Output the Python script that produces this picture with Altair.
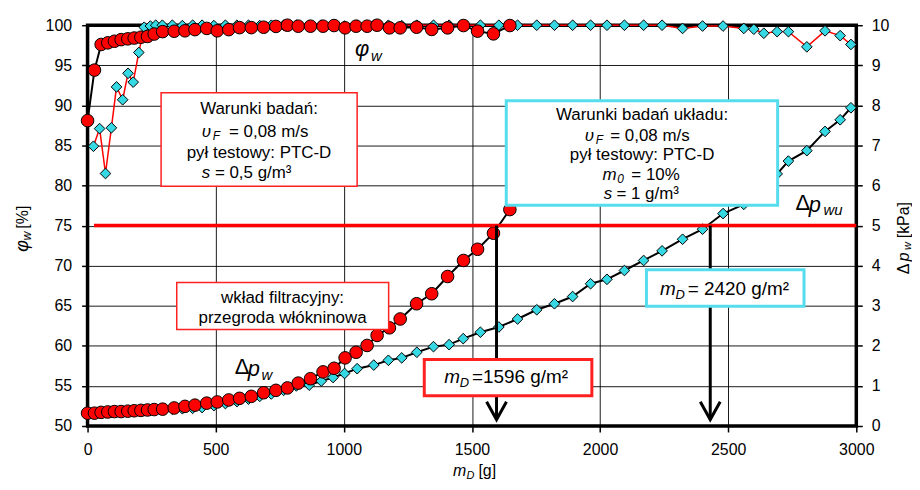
import altair as alt
import pandas as pd

# ---------------- data ----------------
# filter (red circles): dust mass m_D [g], efficiency phi_w [%], pressure drop dp_w [kPa]
red_m = [0, 27, 53, 79, 105, 131, 157, 182, 208, 234, 260, 293, 338, 380, 419, 465, 506, 551, 593, 639,
         687, 735, 780, 822, 870, 919, 962, 1005, 1048, 1091, 1130, 1178, 1220, 1284, 1343, 1405, 1467, 1522, 1584, 1648]
red_eff = [88.1, 94.4, 97.6, 97.8, 98.0, 98.2, 98.3, 98.4, 98.5, 98.6,
           98.9, 99.2, 99.25, 99.3, 99.45, 99.6, 99.3, 99.45, 99.7, 99.7,
           99.75, 99.85, 100.0, 99.88, 99.88, 99.88, 99.96, 99.67, 99.88, 99.88,
           100.0, 99.67, 99.67, 99.75, 99.47, 99.67, 99.96, 99.26, 98.92, 99.96]
red_dp = [0.32, 0.32, 0.34, 0.35, 0.36, 0.36, 0.37, 0.38, 0.39, 0.40,
          0.41, 0.42, 0.45, 0.49, 0.52, 0.57, 0.60, 0.65, 0.69, 0.74,
          0.83, 0.89, 0.95, 1.07, 1.18, 1.35, 1.44, 1.70, 1.84, 2.01,
          2.26, 2.45, 2.67, 3.05, 3.30, 3.73, 4.13, 4.41, 4.81, 5.40]

# system (cyan diamonds)
cyan_m = [23, 47, 70, 93, 113, 137, 158, 178, 200, 221,
          245, 266, 292, 331, 370, 410, 447, 493, 538, 583,
          628, 672, 717, 765, 815, 865, 912, 958, 1003, 1052,
          1117, 1174, 1226, 1285, 1350, 1411, 1466, 1533, 1605, 1678,
          1753, 1822, 1893, 1963, 2027, 2095, 2170, 2242, 2322, 2400,
          2480, 2561, 2600, 2639, 2691, 2735, 2807, 2878, 2937, 2979]
cyan_eff = [84.9, 87.1, 81.5, 87.2, 92.3, 90.7, 94.0, 92.9, 96.6, 99.75,
            99.9, 100.0, 100.0, 100.0, 99.95, 100.0, 100.0, 99.95, 100.0, 100.0,
            100.0, 99.95, 100.0, 100.0, 100.0, 99.95, 100.0, 100.0, 99.9, 100.0,
            100.0, 100.0, 99.95, 100.0, 100.0, 100.0, 100.0, 100.0, 100.0, 100.0,
            100.0, 100.0, 100.0, 100.0, 100.0, 100.0, 100.0, 100.0, 99.6, 99.9,
            99.9, 99.6, 99.5, 99.0, 99.2, 99.2, 97.3, 99.3, 98.7, 97.6]
cyan_dp = [0.32, 0.33, 0.33, 0.34, 0.35, 0.35, 0.36, 0.37, 0.38, 0.38,
           0.39, 0.40, 0.41, 0.42, 0.43, 0.44, 0.46, 0.51, 0.56, 0.61,
           0.67, 0.74, 0.80, 0.89, 1.00, 1.02, 1.12, 1.21, 1.31, 1.43,
           1.52, 1.64, 1.70, 1.84, 1.98, 2.03, 2.18, 2.34, 2.47, 2.67,
           2.90, 3.05, 3.23, 3.55, 3.66, 3.88, 4.13, 4.37, 4.66, 4.91,
           5.30, 5.53, 5.70, 5.90, 6.29, 6.61, 6.87, 7.35, 7.64, 7.94]

limit_eff = 75          # = 5 kPa on the right axis
limit_start = 25
arrow_m = [1596, 2430]
arrow_tip = 50.8

x_ticks = [0, 500, 1000, 1500, 2000, 2500, 3000]
eff_ticks = [50, 55, 60, 65, 70, 75, 80, 85, 90, 95, 100]
dp_ticks = [0, 1, 2, 3, 4, 5, 6, 7, 8, 9, 10]

# annotation boxes (data units)
box_m1 = [287, 1634, 348, 1314, 2181]
box_m2 = [1052, 2693, 1175, 1968, 2796]
box_top = [91.56, 90.57, 67.90, 58.31, 69.48]
box_bottom = [79.90, 77.54, 62.03, 53.76, 64.93]
box_color = ["#FF2020", "#55DDEE", "#FF2020", "#FF2020", "#55DDEE"]
box_width = [1.5, 3, 1.5, 3, 3]

FONT = "Liberation Sans"
RED = "#FF0000"
CYAN = "#36D9E3"

# ---------------- encodings ----------------
x_enc = alt.X("m:Q", scale=alt.Scale(domain=[0, 3000], nice=False, zero=False),
              axis=alt.Axis(values=x_ticks, grid=True, title=None, labelPadding=10, format="d",
                            labelFlush=False))
eff_y = alt.Y("eff:Q", scale=alt.Scale(domain=[50, 100], nice=False, zero=False),
              axis=alt.Axis(orient="left", values=eff_ticks, grid=True, title=None, labelPadding=10,
                            labelFlush=False))
dp_y = alt.Y("dp:Q", scale=alt.Scale(domain=[0, 10], nice=False, zero=False),
             axis=alt.Axis(orient="right", values=dp_ticks, grid=False, title=None, labelPadding=9,
                           labelFlush=False))

red_df = pd.DataFrame({"m": red_m, "eff": red_eff, "dp": red_dp})
cyan_df = pd.DataFrame({"m": cyan_m, "eff": cyan_eff, "dp": cyan_dp})

# ---------------- pressure-drop group (right axis) ----------------
cyan_dp_line = alt.Chart(cyan_df).mark_line(color="black", strokeWidth=2).encode(x=x_enc, y=dp_y)
cyan_dp_pts = alt.Chart(cyan_df).mark_point(shape="diamond", filled=True, fill=CYAN, stroke="black",
                                            strokeWidth=1, size=115, opacity=1).encode(x=x_enc, y=dp_y)
red_dp_line = alt.Chart(red_df).mark_line(color="black", strokeWidth=2).encode(x=x_enc, y=dp_y)
red_dp_pts = alt.Chart(red_df).mark_point(shape="circle", filled=True, fill=RED, stroke="black",
                                          strokeWidth=1, size=160, opacity=1).encode(x=x_enc, y=dp_y)
dp_group = alt.layer(cyan_dp_line, cyan_dp_pts, red_dp_line, red_dp_pts)

# ---------------- efficiency group (left axis) ----------------
cyan_eff_line = alt.Chart(cyan_df).mark_line(color=RED, strokeWidth=1.5).encode(x=x_enc, y=eff_y)
cyan_eff_pts = alt.Chart(cyan_df).mark_point(shape="diamond", filled=True, fill=CYAN, stroke="black",
                                             strokeWidth=1, size=115, opacity=1).encode(x=x_enc, y=eff_y)
red_eff_line = alt.Chart(red_df).mark_line(color="black", strokeWidth=2).encode(x=x_enc, y=eff_y)
red_eff_pts = alt.Chart(red_df).mark_point(shape="circle", filled=True, fill=RED, stroke="black",
                                           strokeWidth=1, size=160, opacity=1).encode(x=x_enc, y=eff_y)

limit_df = pd.DataFrame({"m": [limit_start], "m2": [3000], "eff": [limit_eff]})
limit_rule = alt.Chart(limit_df).mark_rule(color=RED, strokeWidth=3.5).encode(
    x=x_enc, x2=alt.X2("m2:Q"), y=eff_y)

arrow_df = pd.DataFrame({"m": arrow_m, "eff": [limit_eff] * len(arrow_m), "eff2": [arrow_tip] * len(arrow_m)})
arrow_rules = alt.Chart(arrow_df).mark_rule(color="black", strokeWidth=3).encode(
    x=x_enc, y=eff_y, y2=alt.Y2("eff2:Q"))
tip_df = pd.DataFrame({"m": arrow_m, "eff": [arrow_tip] * len(arrow_m)})
arrow_heads = alt.Chart(tip_df).mark_point(shape="M-1,-1.8L0,0L1,-1.8", filled=False, stroke="black",
                                           strokeWidth=3, size=400, opacity=1,
                                           strokeJoin="miter").encode(x=x_enc, y=eff_y)

box_df = pd.DataFrame({"m": box_m1, "m2": box_m2, "eff": box_top, "eff2": box_bottom,
                       "col": box_color, "sw": box_width})
boxes = alt.Chart(box_df).mark_rect(fill="white", opacity=1).encode(
    x=x_enc, x2=alt.X2("m2:Q"), y=eff_y, y2=alt.Y2("eff2:Q"),
    stroke=alt.Stroke("col:N", scale=None), strokeWidth=alt.StrokeWidth("sw:Q", scale=None))


def txt(ms, ys, texts, size, italic=False, align="left"):
    df = pd.DataFrame({"m": ms, "eff": ys, "t": texts})
    return alt.Chart(df).mark_text(font=FONT, fontSize=size, fontStyle="italic" if italic else "normal",
                                   align=align, baseline="middle", color="black").encode(
        x=x_enc, y=eff_y, text="t:N")


texts = [
    txt([669, 669, 2164, 2164, 761, 761], [89.58, 84.0, 88.83, 83.75, 66.0, 63.52],
        ["Warunki badań:", "pył testowy: PTC-D", "Warunki badań układu:", "pył testowy: PTC-D",
         "wkład filtracyjny:", "przegroda włókninowa"], 17, align="center"),
    txt([552, 497, 2040, 2122, 2064], [86.72, 81.51, 86.23, 81.27, 78.91],
        ["= 0,08 m/s", "= 0,5 g/m³", "= 0,08 m/s", "= 10%", "= 1 g/m³"], 17),
    txt([446, 446, 1940, 2010, 2014], [86.72, 81.51, 86.23, 81.27, 78.91],
        ["υ", "s", "υ", "m", "s"], 17, italic=True),
    txt([489, 1983, 2067], [86.23, 85.73, 80.77], ["F", "F", "0"], 12, italic=True),
    txt([1392, 2234], [56.08, 67.12], ["m", "m"], 19, italic=True),
    txt([1452, 2294], [55.33, 66.38], ["D", "D"], 13, italic=True),
    txt([1500, 2342], [56.08, 67.12], ["=1596 g/m²", "= 2420 g/m²"], 19),
    txt([1044, 625, 2814], [97.02, 57.07, 77.54], ["φ", "p", "p"], 22, italic=True),
    txt([1106, 679, 2872], [96.15, 56.33, 76.92], ["w", "w", "wu"], 15, italic=True),
    txt([574, 2763], [57.32, 77.79], ["Δ", "Δ"], 22),
]

one = pd.DataFrame({"k": [0]})


def ptxt(x, y, s, size, italic=False, angle=0, align="center"):
    return alt.Chart(one).mark_text(font=FONT, fontSize=size, fontStyle="italic" if italic else "normal",
                                    align=align, baseline="middle", angle=angle, color="black").encode(
        x=alt.value(x), y=alt.value(y), text=alt.value(s))


titles = [
    ptxt(-65, 222, "φ", 18, italic=True, angle=270),
    ptxt(-61, 212, "w", 12, italic=True, angle=270),
    ptxt(-65, 193, "[%]", 16, angle=270),
    ptxt(374, 448, "m", 16, italic=True),
    ptxt(381, 453, "D", 11, italic=True, align="left"),
    ptxt(393, 448, "[g]", 16, align="left"),
    ptxt(821, 245, "Δ", 16, angle=270),
    ptxt(821, 233, "p", 16, italic=True, angle=270),
    ptxt(825, 222, "w", 11, italic=True, angle=270),
    ptxt(821, 196, "[kPa]", 16, angle=270),
]

eff_group = alt.layer(cyan_eff_line, cyan_eff_pts, red_eff_line, red_eff_pts,
                      limit_rule, arrow_rules, arrow_heads, boxes, *texts, *titles)

chart = alt.layer(dp_group, eff_group).resolve_scale(y="independent").properties(
    width=773, height=403,
    padding={"left": 80, "top": 16, "right": 56, "bottom": 55},
    autosize=alt.AutoSizeParams(type="none"),
    background="white",
).configure_view(
    stroke="black", strokeWidth=3.5
).configure_axis(
    labelFont=FONT, labelFontSize=16, labelColor="black",
    tickColor="black", tickSize=6, tickWidth=1.5,
    domain=False, gridColor="black", gridWidth=1, gridOpacity=0.9,
)

chart.save("out.html", embed_options={"renderer": "svg", "actions": False})
